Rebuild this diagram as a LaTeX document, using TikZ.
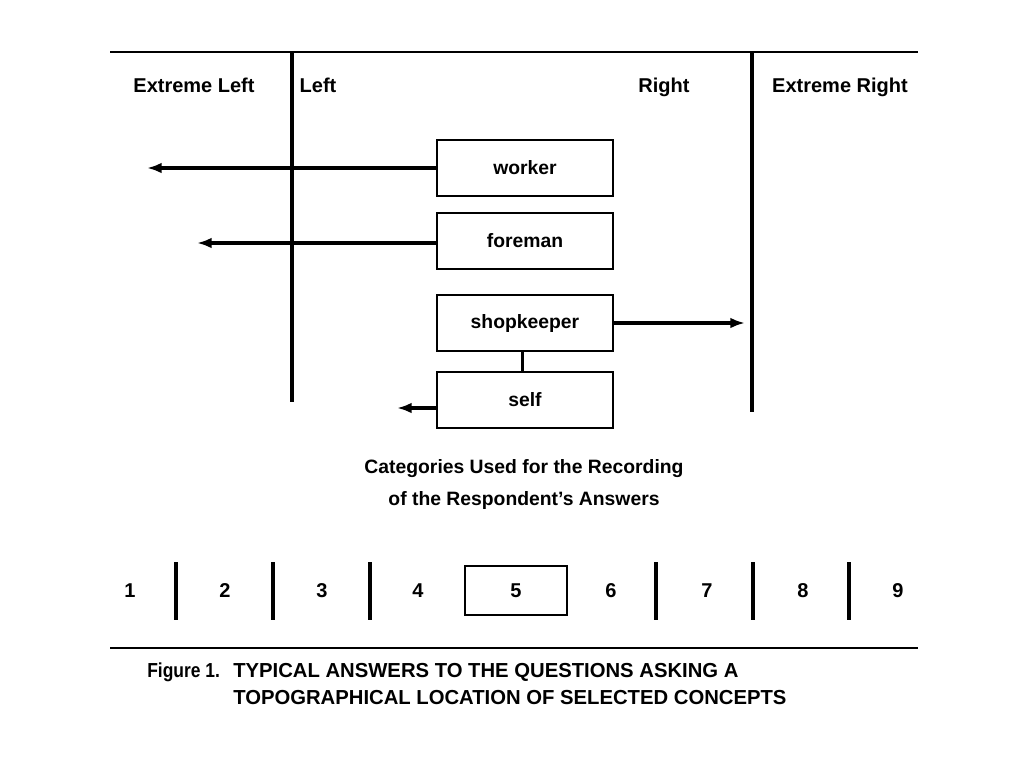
\documentclass[tikz,border=0pt]{standalone}
\usepackage{fontspec}
\setmainfont{Liberation Sans}
\newfontfamily\narrowsans[FakeStretch=0.86]{Liberation Sans}
\usetikzlibrary{arrows.meta}
\begin{document}
\begin{tikzpicture}[x=0.75pt,y=-0.75pt,
  rule/.style={line width=2.2pt},
  divider/.style={line width=3pt},
  head/.style={font=\bfseries\fontsize{15}{18}\selectfont, inner sep=0pt, anchor=base},
  concept/.style={draw, line width=2.2pt, minimum width=132pt, minimum height=42pt,
                  inner sep=0pt, font=\bfseries\fontsize{14.5}{17}\selectfont},
  answer/.style={line width=3pt, -{Latex[length=11pt,width=8pt]}},
  catnum/.style={font=\bfseries\fontsize{15}{18}\selectfont, inner sep=0pt},
  catbar/.style={line width=3pt},
  note/.style={font=\bfseries\fontsize{14.5}{18}\selectfont, inner sep=0pt},
  caption/.style={font=\bfseries\fontsize{15.2}{19}\selectfont, inner sep=0pt, anchor=base west}]
  \useasboundingbox (0,0) rectangle (1018,768);

  % frame rules and the dividers of the scale
  \draw[rule] (110,52) -- (918,52);
  \draw[divider] (292,52) -- (292,402);
  \draw[divider] (752,52) -- (752,412);

  % region headings
  \node[head] (hxl) at (194,92) {Extreme Left};
  \node[head] (hl)  at (318,92) {Left};
  \node[head] (hr)  at (664,92) {Right};
  \node[head] (hxr) at (840,92) {Extreme Right};

  % concepts placed on the scale
  \node[concept] (worker)     at (525,168) {worker};
  \node[concept] (foreman)    at (525,241) {foreman};
  \node[concept] (shopkeeper) at (525,323) {shopkeeper};
  \node[concept] (self)       at (525,400) {self};

  \coordinate (wEnd) at (147,168);
  \coordinate (fEnd) at (197,243);
  \coordinate (sEnd) at (745,323);
  \coordinate (oEnd) at (397,408);

  \draw[answer] (worker.west |- wEnd) -- (wEnd);
  \draw[answer] (foreman.west |- fEnd) -- (fEnd);
  \draw[answer] (shopkeeper.east) -- (sEnd);
  \draw[answer] (self.west |- oEnd) -- (oEnd);
  \draw[line width=2pt] ([xshift=-2pt]shopkeeper.south) -- ([xshift=-2pt]self.north);

  % categories of the recording scale
  \node[note] (cat1) at (524,469) {Categories Used for the Recording};
  \node[note] (cat2) at (524,500) {of the Respondent's Answers};

  \foreach \n/\x in {1/130,2/225,3/322,4/418,5/516,6/611,7/707,8/803,9/898}
    \node[catnum] (n\n) at (\x,591) {\n};
  \foreach \x in {176,273,370,656,753,849}
    \draw[catbar] (\x,562) -- (\x,620);
  \draw[line width=2.2pt] (465,566) rectangle (567,615);

  \draw[rule] (110,648) -- (918,648);

  % figure caption
  \node[caption] (fig) at (147,677) {\narrowsans Figure 1.};
  \node[caption] (cap1) at (233,677) {TYPICAL ANSWERS TO THE QUESTIONS ASKING A};
  \node[caption] (cap2) at (233,704) {TOPOGRAPHICAL LOCATION OF SELECTED CONCEPTS};
\end{tikzpicture}
\end{document}
